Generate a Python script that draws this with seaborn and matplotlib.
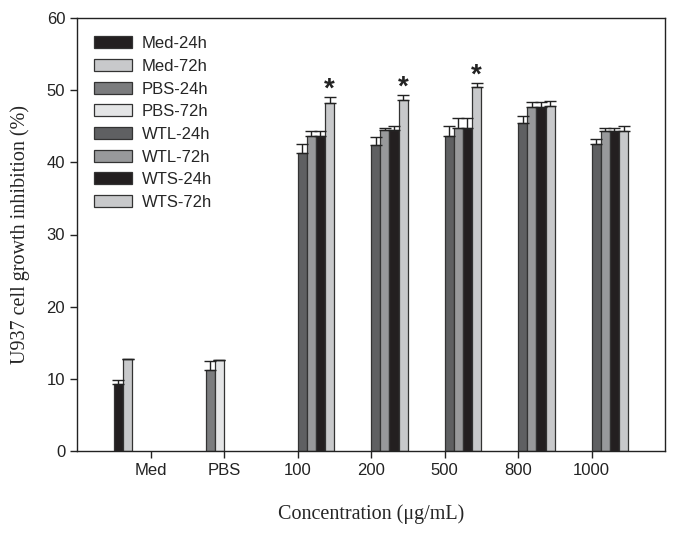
import numpy as np
import pandas as pd
import seaborn as sns
import matplotlib.pyplot as plt

# categories on the x axis
groups = ["Med", "PBS", "100", "200", "500", "800", "1000"]
# series (legend order)
series = ["Med-24h", "Med-72h", "PBS-24h", "PBS-72h",
          "WTL-24h", "WTL-72h", "WTS-24h", "WTS-72h"]
colors = ["#231f20", "#c8c9cb", "#7b7c7e", "#e4e5e6",
          "#5f6062", "#98999b", "#231f20", "#c8c9cb"]

# mean values (group -> series)
med_vals = {"Med-24h": 9.3, "Med-72h": 12.8}
pbs_vals = {"PBS-24h": 11.2, "PBS-72h": 12.6}
wtl_24h = [41.3, 42.4, 43.6, 45.4, 42.6]
wtl_72h = [43.6, 44.5, 44.8, 47.6, 44.3]
wts_24h = [43.7, 44.5, 44.8, 47.6, 44.3]
wts_72h = [48.2, 48.7, 50.4, 47.8, 44.4]

# upper error bars (SD)
med_err = {"Med-24h": 0.5, "Med-72h": 0.0}
pbs_err = {"PBS-24h": 1.3, "PBS-72h": 0.0}
wtl_24h_err = [1.2, 1.1, 1.4, 1.0, 0.7]
wtl_72h_err = [0.7, 0.3, 1.3, 0.8, 0.4]
wts_24h_err = [0.6, 0.6, 1.3, 0.8, 0.4]
wts_72h_err = [0.9, 0.6, 0.6, 0.7, 0.7]

# groups flagged as significant
star_groups = ["100", "200", "500"]

rows = []
for k, v in med_vals.items():
    rows.append({"group": "Med", "series": k, "value": v, "err": med_err[k]})
for k, v in pbs_vals.items():
    rows.append({"group": "PBS", "series": k, "value": v, "err": pbs_err[k]})
for i, g in enumerate(groups[2:]):
    for name, vals, errs in [("WTL-24h", wtl_24h, wtl_24h_err),
                             ("WTL-72h", wtl_72h, wtl_72h_err),
                             ("WTS-24h", wts_24h, wts_24h_err),
                             ("WTS-72h", wts_72h, wts_72h_err)]:
        rows.append({"group": g, "series": name, "value": vals[i], "err": errs[i]})
df = pd.DataFrame(rows)
err_lookup = {(r.group, r.series): r.err for r in df.itertuples()}

sns.set_style("ticks")
plt.rcParams['font.family'] = ['Liberation Sans', 'DejaVu Sans']

fig, ax = plt.subplots(figsize=(6.78, 5.37), dpi=100)
fig.subplots_adjust(left=77 / 678, right=665 / 678, bottom=86 / 537, top=519 / 537)

sns.barplot(data=df, x="group", y="value", hue="series", order=groups,
            hue_order=series, palette=colors, width=1.0, gap=0, errorbar=None,
            edgecolor="#333333", linewidth=0.9, saturation=1, ax=ax)

n = len(series)
for p in ax.patches:
    if p.get_height() is None or np.isnan(p.get_height()) or p.get_width() == 0:
        continue
    xc = p.get_x() + p.get_width() / 2
    gi = int(round(xc))
    hi = int(round((xc - gi + 0.5) * n - 0.5))
    if gi < 0 or gi >= len(groups) or hi < 0 or hi >= n:
        continue
    key = (groups[gi], series[hi])
    if key not in err_lookup:
        continue
    h = p.get_height()
    e = err_lookup[key]
    ax.errorbar(xc, h, yerr=[[0], [e]], fmt="none", ecolor="#222222",
                elinewidth=1.0, capsize=4.5, capthick=1.0, zorder=3)
    if series[hi] == "WTS-72h" and groups[gi] in star_groups:
        ax.text(xc, h + e + 1.0, "*", ha="center", va="center",
                fontsize=20, fontweight="bold", color="#222222")

ax.set_xlim(-1, len(groups))
ax.set_ylim(0, 60)
ax.set_yticks(range(0, 61, 10))
for s in ax.spines.values():
    s.set_color("#222222")
    s.set_linewidth(1.0)
ax.tick_params(direction="out", length=5, width=1, colors="#222222",
               labelsize=12, top=False, right=False)

ax.set_xlabel("Concentration (\u03bcg/mL)", family=["Liberation Serif", "DejaVu Serif"],
              fontsize=14.5, labelpad=19)
ax.set_ylabel("U937 cell growth inhibition (%)", family=["Liberation Serif", "DejaVu Serif"],
              fontsize=14.5, labelpad=12)

ax.legend(loc="upper left", bbox_to_anchor=(0.029, 0.958), frameon=False,
          fontsize=12, handlelength=2.3, handleheight=0.72,
          labelspacing=0.46, handletextpad=0.55, borderaxespad=0, borderpad=0)

fig.savefig("out.png", dpi=100)
